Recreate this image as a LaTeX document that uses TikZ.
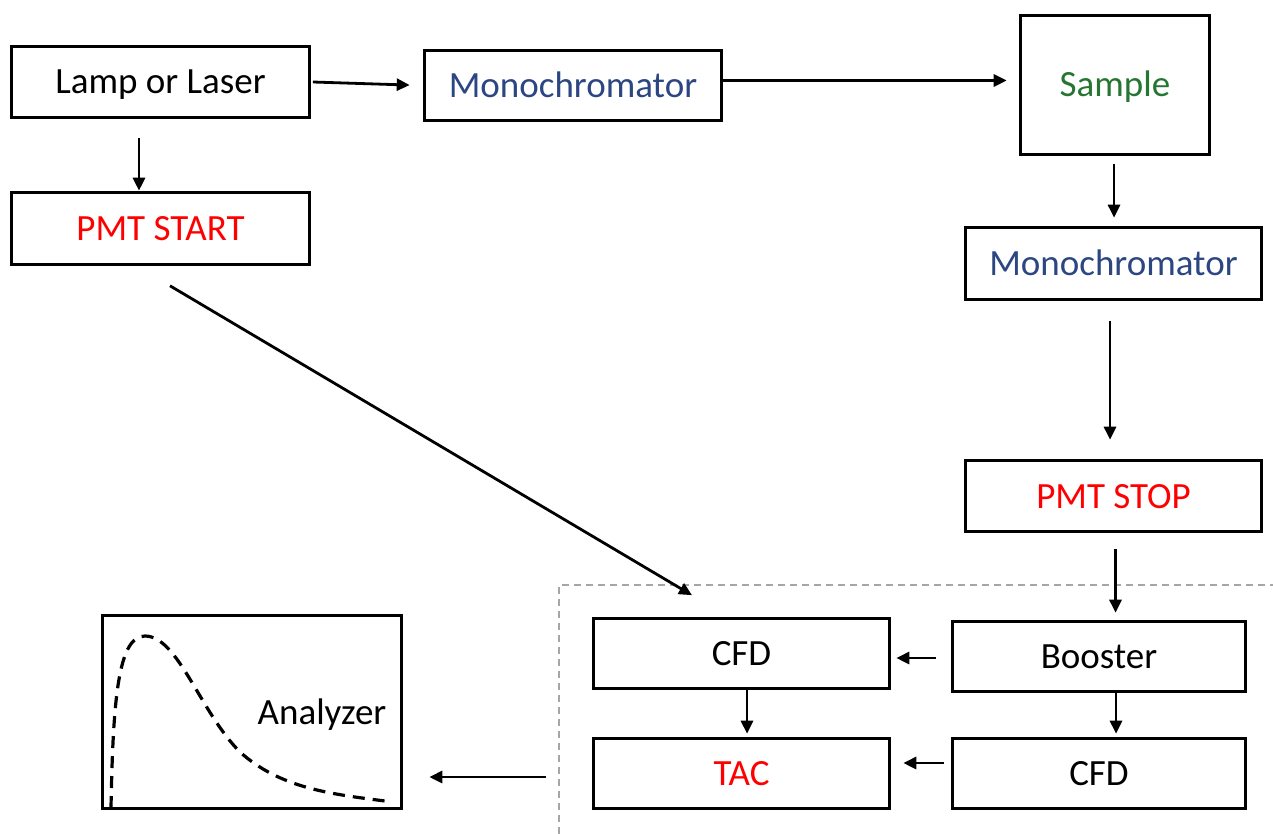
\documentclass[tikz,border=0pt]{standalone}
\usepackage{fontspec}
\setmainfont{Carlito}
\usetikzlibrary{arrows.meta,calc}
\definecolor{monoblue}{RGB}{44,70,130}
\definecolor{samplegreen}{RGB}{38,118,50}
\definecolor{pmtred}{RGB}{255,0,0}
\begin{document}
\begin{tikzpicture}[x=1pt,y=-1pt,
  box/.style={draw=black,line width=3.6pt,inner sep=0pt,minimum width=#1,
    font=\fontsize{37}{40}\selectfont,text height=24pt,text depth=0pt},
  box/.default=297pt,
  arr/.style={line width=2.8pt,-{Triangle[length=13pt,width=12pt]}},
]
\useasboundingbox (0,0) rectangle (1273,834);
% nodes
\node[box=298pt,minimum height=71pt] (lamp) at (160.5,82) {Lamp or Laser};
\node[box=298pt,minimum height=72pt,text=pmtred] (pmtstart) at (160.5,228.5) {PMT START};
\node[box=297pt,minimum height=70pt,text=monoblue] (mono1) at (573,85.5) {Monochromator};
\node[box=189pt,minimum height=139pt,text=samplegreen] (sample) at (1115,85) {Sample};
\node[box=296pt,minimum height=72pt,text=monoblue] (mono2) at (1113.5,263.5) {Monochromator};
\node[box=296pt,minimum height=71pt,text=pmtred] (pmtstop) at (1113.5,496) {PMT STOP};
\node[box=293pt,minimum height=70pt] (booster) at (1099,656.5) {Booster};
\node[box=296pt,minimum height=70pt] (cfd1) at (741.5,653.5) {CFD};
\node[box=296pt,minimum height=70pt,text=pmtred] (tac) at (741.5,773.5) {TAC};
\node[box=293pt,minimum height=70pt] (cfd2) at (1099,773.5) {CFD};
\node[box=299pt,minimum height=193pt] (analyzer) at (252,712) {};
\node[font=\fontsize{37}{40}\selectfont,inner sep=0pt,text height=24pt,text depth=0pt] (analyzertext) at (322,712) {Analyzer};
% decay curve
\draw[line width=3.2pt,dash pattern=on 12pt off 8pt]
  (111,808) .. controls (113,700) and (118,636) .. (145,636)
  .. controls (178,636) and (200,712) .. (240,752)
  .. controls (280,788) and (330,794) .. (385,801);
% dashed boundary
\draw[gray!70,line width=1.2pt,dash pattern=on 7pt off 5pt] (559,834) -- (559,585) -- (1273,585);
% connectors
\draw[arr] ([xshift=-21.5pt,yshift=-19pt]lamp.south) -- ([xshift=-21.5pt]pmtstart.north);
\draw[arr,shorten >=13pt] ([xshift=1.5pt]lamp.east) -- (mono1.west);
\draw[arr,shorten >=12pt] ([yshift=5pt]mono1.east) -- ([yshift=5pt]mono1.east -| sample.west);
\draw[arr,shorten <=8pt,shorten >=8pt] ([xshift=-1pt]sample.south) -- ([xshift=-1pt]sample.south |- mono2.north);
\draw[arr,shorten <=20pt,shorten >=19pt] ([xshift=-3.5pt]mono2.south) -- ([xshift=-3.5pt]mono2.south |- pmtstop.north);
\draw[arr,shorten <=16pt,shorten >=7pt] ([xshift=2pt]pmtstop.south) -- ([xshift=2pt]pmtstop.south |- booster.north);
\draw[arr,shorten <=15pt,shorten >=5pt] ([yshift=-1.5pt]booster.west) -- ([yshift=-1.5pt]booster.west -| cfd1.east);
\draw[arr,shorten >=3pt] ([xshift=17pt]booster.south) -- ([xshift=17pt]booster.south |- cfd2.north);
\draw[arr,shorten >=3pt] ([xshift=5.5pt]cfd1.south) -- ([xshift=5.5pt]cfd1.south |- tac.north);
\draw[arr,shorten <=7pt,shorten >=12pt] ([yshift=10.5pt]cfd2.west) -- ([yshift=10.5pt]cfd2.west -| tac.east);
\draw[arr,shorten <=46pt,shorten >=26pt] ([yshift=-3.5pt]tac.west) -- ([yshift=-3.5pt]tac.west -| analyzer.east);
\draw[arr] ([xshift=9.5pt,yshift=-19.5pt]pmtstart.south) -- ([xshift=-49.5pt,yshift=21.5pt]cfd1.north);
\end{tikzpicture}
\end{document}
